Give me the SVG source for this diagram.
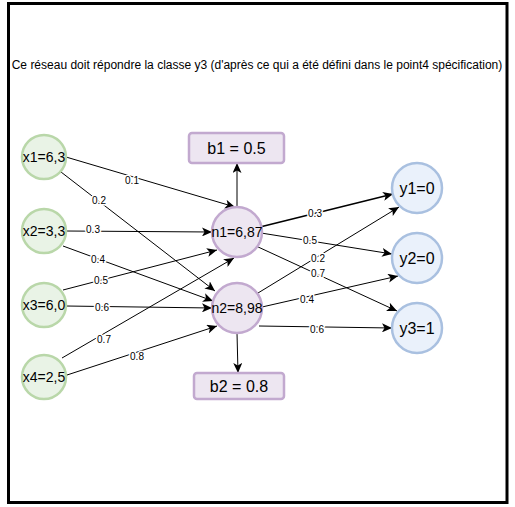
<svg xmlns="http://www.w3.org/2000/svg" width="515" height="507" viewBox="0 0 515 507">
<style>
text{font-family:"Liberation Sans",Arial,sans-serif;fill:#000;text-anchor:middle;dominant-baseline:central}
.in{fill:#e9f3e6;stroke:#b9d7a9;stroke-width:2.5}
.hid{fill:#ede6f1;stroke:#c2a9cf;stroke-width:2.5}
.out{fill:#eaf1fb;stroke:#a9c0e0;stroke-width:2.5}
.bias{fill:#ede6f1;stroke:#c2a9cf;stroke-width:2.5}
.nt{font-size:14px}
.bt{font-size:16px}
.e{stroke:#000;stroke-width:1;fill:none;marker-end:url(#arr)}
.lb{font-size:10px;stroke:#fff;stroke-width:3;paint-order:stroke;stroke-linejoin:round}
</style>
<defs>
<marker id="arr" markerUnits="userSpaceOnUse" markerWidth="10" markerHeight="9" viewBox="0 0 10 9" refX="10" refY="4.5" orient="auto">
<path d="M0,0 L10,4.5 L0,9 L2.5,4.5 z" fill="#000"/>
</marker>
</defs>
<rect x="8.5" y="3.5" width="498.5" height="499" fill="#fff" stroke="#000" stroke-width="3"/>
<text x="257" y="65" style="font-size:12px">Ce réseau doit répondre la classe y3 (d'après ce qui a été défini dans le point4 spécification)</text>
<g id="connectors">
<path class="e" d="M66,157 L235,207"/>
<path class="e" d="M61,172 L215,291"/>
<path class="e" d="M66,231 L212,232"/>
<path class="e" d="M63,246 L213,301"/>
<path class="e" d="M63,290 L217,250"/>
<path class="e" d="M66,306 L212,308"/>
<path class="e" d="M62,358 L234,258"/>
<path class="e" d="M67,375 L217,326"/>
<path class="e" d="M237,207 L237,163"/>
<path class="e" d="M237,333 L238,373"/>
<path class="e" d="M260,227 L393,194" style="stroke-width:1.6"/>
<path class="e" d="M261,233 L392,254"/>
<path class="e" d="M256,246 L397,311"/>
<path class="e" d="M258,293 L399,207"/>
<path class="e" d="M262,307 L398,276"/>
<path class="e" d="M259,326 L392,328"/>
<text class="lb" x="132" y="180">0.1</text>
<text class="lb" x="99" y="200">0.2</text>
<text class="lb" x="93" y="229">0.3</text>
<text class="lb" x="98" y="259">0.4</text>
<text class="lb" x="101" y="280">0.5</text>
<text class="lb" x="102" y="307">0.6</text>
<text class="lb" x="104" y="339">0.7</text>
<text class="lb" x="137" y="356">0.8</text>
<text class="lb" x="315" y="213">0.3</text>
<text class="lb" x="310" y="240">0.5</text>
<text class="lb" x="318" y="258">0.2</text>
<text class="lb" x="318" y="273">0.7</text>
<text class="lb" x="307" y="299">0.4</text>
<text class="lb" x="317" y="329">0.6</text>
</g>
<g id="x1"><circle class="in" cx="44" cy="157" r="22"/><text class="nt" x="44" y="157">x1=6,3</text></g>
<g id="x2"><circle class="in" cx="44" cy="231" r="22"/><text class="nt" x="44" y="231">x2=3,3</text></g>
<g id="x3"><circle class="in" cx="44" cy="305" r="22"/><text class="nt" x="44" y="305">x3=6,0</text></g>
<g id="x4"><circle class="in" cx="44" cy="377" r="22"/><text class="nt" x="44" y="377">x4=2,5</text></g>
<g id="n1"><circle class="hid" cx="237" cy="232" r="25"/><text class="nt" x="237" y="232">n1=6,87</text></g>
<g id="n2"><circle class="hid" cx="237" cy="308" r="25"/><text class="nt" x="237" y="308">n2=8,98</text></g>
<g id="b1"><rect class="bias" x="189" y="133" width="95" height="30" rx="3"/><text class="bt" x="236.5" y="148">b1 = 0.5</text></g>
<g id="b2"><rect class="bias" x="194" y="373" width="90" height="26" rx="3"/><text class="bt" x="239" y="386">b2 = 0.8</text></g>
<g id="y1"><circle class="out" cx="417" cy="188" r="25"/><text class="bt" x="417" y="188">y1=0</text></g>
<g id="y2"><circle class="out" cx="417" cy="258" r="25"/><text class="bt" x="417" y="258">y2=0</text></g>
<g id="y3"><circle class="out" cx="417" cy="328" r="25"/><text class="bt" x="417" y="328">y3=1</text></g>
</svg>
